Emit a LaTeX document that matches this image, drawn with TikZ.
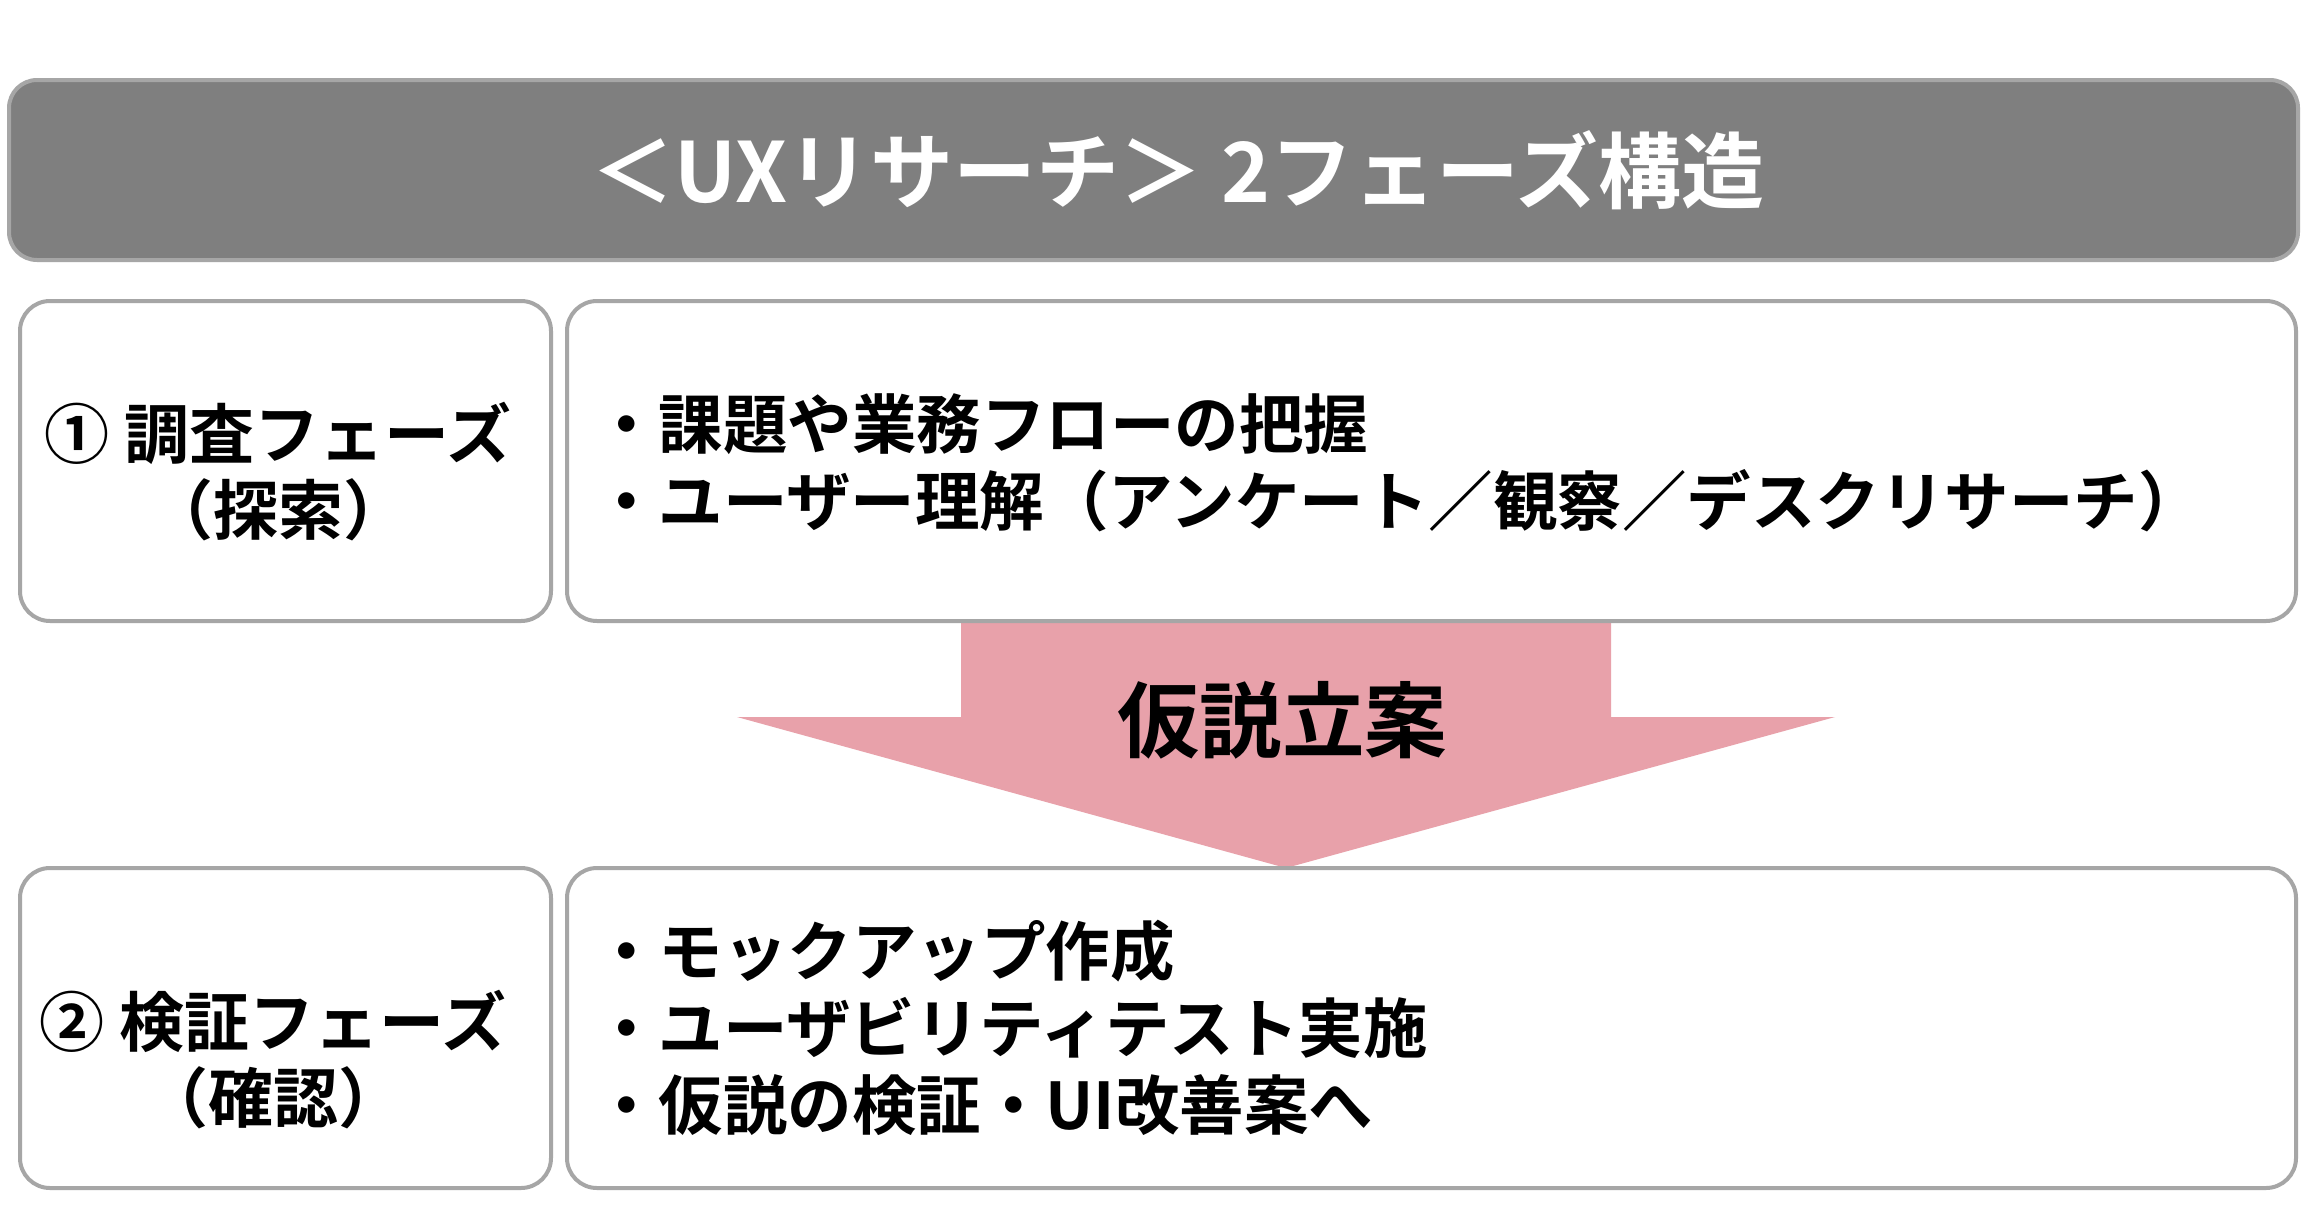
\documentclass[tikz,border=0pt]{standalone}
\usepackage{fontspec}
\setmainfont{Noto Sans CJK JP}[BoldFont={Noto Sans CJK JP Bold}]
\definecolor{boxgray}{HTML}{A6A6A6}
\definecolor{hdrgray}{HTML}{7F7F7F}
\definecolor{arrowpink}{HTML}{E8A1AA}
\begin{document}
\begin{tikzpicture}[x=1pt,y=-1pt,
  hdrbox/.style={draw=boxgray, fill=hdrgray, line width=4pt, rounded corners=28pt,
    minimum width=2289pt, minimum height=180pt, inner sep=0pt},
  cellbox/.style={draw=boxgray, fill=white, line width=4pt, rounded corners=30pt,
    minimum height=320pt, inner sep=0pt},
  leftcell/.style={cellbox, minimum width=531pt},
  rightcell/.style={cellbox, minimum width=1729pt},
  titletxt/.style={text=white, font=\bfseries\fontsize{83}{100}\selectfont, inner sep=0pt},
  phasetxt/.style={align=center, font=\bfseries\fontsize{65}{76}\selectfont, inner sep=0pt},
  bodytxt/.style={align=left, anchor=west, font=\bfseries\fontsize{64.5}{77}\selectfont, inner sep=0pt},
  arrowtxt/.style={font=\bfseries\fontsize{82.5}{96}\selectfont, inner sep=0pt}
]
\useasboundingbox (0,0) rectangle (2318,1229);
\fill[white] (0,0) rectangle (2318,1229);

% arrow (hypothesis)
\fill[arrowpink] (961,621) -- (1611,621) -- (1611,717) -- (1835,717) -- (1286,868)
  -- (737,717) -- (961,717) -- cycle;

% header
\node[hdrbox] (hdr) at (1153.5,170) {};
\node[titletxt] (title) at (1178,170) {＜UXリサーチ＞ 2フェーズ構造};

% row 1
\node[leftcell] (l1) at (285.5,461) {};
\node[rightcell] (r1) at (1431.5,461) {};
\node[phasetxt] (p1) at (278,472) {① 調査フェーズ\\（探索）};
\node[bodytxt] (b1) at (594,463) {・課題や業務フローの把握\\・ユーザー理解（アンケート／観察／デスクリサーチ）};

% arrow label
\node[arrowtxt] (hyp) at (1282,720) {仮説立案};

% row 2
\node[leftcell] (l2) at (285.5,1028) {};
\node[rightcell] (r2) at (1431.5,1028) {};
\node[phasetxt] (p2) at (273,1060) {② 検証フェーズ\\（確認）};
\node[bodytxt] (b2) at (594,1028) {・モックアップ作成\\・ユーザビリティテスト実施\\・仮説の検証・UI改善案へ};
\end{tikzpicture}
\end{document}
